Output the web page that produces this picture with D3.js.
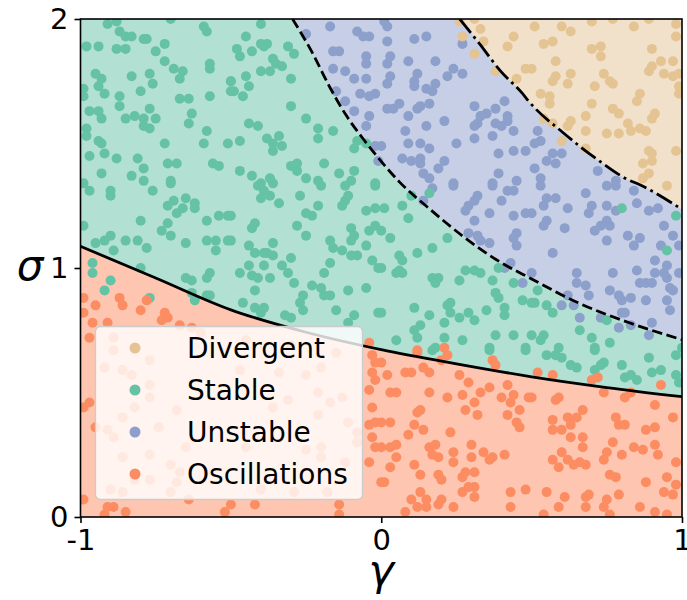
<!DOCTYPE html>
<html>
<head>
<meta charset="utf-8">
<script src="https://cdn.jsdelivr.net/npm/d3@7"></script>
<style>
  html, body { margin: 0; padding: 0; background: #ffffff; }
  svg text { font-family: "DejaVu Sans", sans-serif; }
</style>
</head>
<body>
<svg id="chart" width="687" height="600"></svg>
<script>
// Phase categories in legend order
const categories = ["Divergent", "Stable", "Unstable", "Oscillations"];

// Axis ticks
const xTicks = [-1, 0, 1];
const yTicks = [0, 1, 2];

// Phase boundaries, [gamma, sigma]
const oscillationBoundary = [[-1, 1.087], [-0.75, 0.96], [-0.5, 0.832], [-0.25, 0.742], [0, 0.672],
  [0.25, 0.615], [0.5, 0.563], [0.75, 0.52], [1, 0.483]];
const unstableBoundary = [[-0.295, 2], [-0.228, 1.862], [-0.171, 1.726], [-0.116, 1.612], [-0.061, 1.52],
  [-0.005, 1.435], [0.061, 1.345], [0.161, 1.237], [0.271, 1.128], [0.383, 1.033], [0.5, 0.956],
  [0.659, 0.858], [0.825, 0.78], [1, 0.712]];
const divergentBoundary = [[0.261, 2], [0.327, 1.9], [0.394, 1.795], [0.47, 1.7], [0.493, 1.666],
  [0.603, 1.545], [0.716, 1.438], [0.825, 1.352], [0.849, 1.34], [1, 1.235]];

// Simulated communities, [gamma, sigma], grouped by observed outcome
const stablePts = [
  [-0.91,1.98],[-0.88,1.99],[-0.70,2.0],[-0.59,1.97],[-0.58,1.95],[-0.87,1.95],[-0.85,1.93],[-0.83,1.93],[-0.79,1.92],[-0.78,1.92],
  [-0.98,1.89],[-0.94,1.89],[-0.88,1.88],[-0.85,1.88],[-0.72,1.90],[-0.75,1.87],[-0.72,1.83],[-0.57,1.82],[-0.57,1.80],[-0.69,1.80],
  [-0.66,1.79],[-0.67,1.76],[-0.95,1.78],[-0.93,1.76],[-0.94,1.73],[-0.92,1.70],[-0.83,1.77],[-0.77,1.78],[-0.76,1.74],[-0.80,1.71],
  [-0.99,1.72],[-0.99,1.69],[-0.50,1.75],[-0.50,1.71],[-0.87,1.69],[-0.87,1.65],[-0.67,1.68],[-0.64,1.68],[-0.57,1.69],[-0.77,1.64],
  [-0.97,1.63],[-0.94,1.63],[-0.93,1.60],[-0.85,1.60],[-0.82,1.61],[-0.79,1.60],[-0.75,1.60],[-0.79,1.57],[-0.77,1.56],[-0.63,1.62],
  [-0.64,1.58],[-0.98,1.56],[-0.98,1.53],[-0.94,1.51],[-0.93,1.50],[-0.58,1.55],[-0.59,1.50],[-0.51,1.50],[-0.72,1.50],[-0.97,1.45],
  [-0.92,1.46],[-0.88,1.44],[-0.81,1.44],[-0.79,1.40],[-0.71,1.42],[-0.68,1.42],[-0.56,1.42],[-0.54,1.41],[-0.93,1.38],[-0.83,1.37],
  [-0.79,1.35],[-0.70,1.35],[-0.99,1.34],
  [-0.40,1.98],[-0.45,1.93],[-0.48,1.88],[-0.47,1.85],[-0.43,1.87],[-0.40,1.90],[-0.38,1.90],[-0.39,1.89],[-0.31,1.89],[-0.29,1.86],
  [-0.36,1.84],[-0.35,1.82],[-0.33,1.81],[-0.40,1.79],[-0.37,1.79],[-0.30,1.76],[-0.45,1.77],[-0.44,1.73],[-0.50,1.75],[-0.49,1.71],
  [-0.46,1.69],[-0.30,1.65],[-0.25,1.60],[-0.21,1.56],[-0.21,1.52],[-0.16,1.55],[-0.44,1.58],[-0.41,1.57],[-0.38,1.52],[-0.34,1.53],
  [-0.36,1.50],[-0.33,1.49],[-0.36,1.47],[-0.47,1.51],[-0.08,1.51],[-0.05,1.50],[-0.09,1.48],[-0.30,1.41],[-0.28,1.42],[-0.28,1.39],
  [-0.19,1.42],[-0.47,1.39],[-0.43,1.37],[-0.37,1.36],[-0.40,1.34],[-0.25,1.36],[-0.21,1.35],[-0.14,1.38],[-0.09,1.39],[-0.10,1.35],
  [-0.02,1.34],
  [-0.97,1.31],[-0.90,1.31],[-0.90,1.29],[-0.76,1.31],[-0.70,1.34],[-0.69,1.27],[-0.71,1.25],[-0.66,1.24],[-0.68,1.22],[-0.65,1.28],
  [-0.62,1.26],[-0.62,1.24],[-0.80,1.19],[-0.71,1.18],[-0.73,1.15],[-0.70,1.13],[-0.58,1.19],[-0.54,1.21],[-0.51,1.21],[-0.99,1.17],
  [-0.95,1.10],[-0.92,1.11],[-0.90,1.13],[-0.89,1.07],[-0.85,1.11],[-0.81,1.11],[-0.78,1.08],[-0.65,1.10],[-0.58,1.11],[-0.55,1.11],
  [-0.55,1.07],[-0.51,1.11],[-0.96,1.02],[-0.96,0.98],[-0.90,0.95],[-0.80,1.00],[-0.92,0.91],[-0.65,0.96],[-0.63,0.95],[-0.58,0.96],
  [-0.57,0.98],[-0.63,0.90],[-0.62,0.87],[-0.58,0.89],[-0.57,0.89],[-0.77,0.88],
  [-0.41,1.33],[-0.39,1.31],[-0.40,1.28],[-0.37,1.29],[-0.34,1.26],[-0.36,1.34],[-0.27,1.29],[-0.20,1.33],[-0.21,1.25],[-0.25,1.22],
  [-0.23,1.21],[-0.12,1.33],[-0.11,1.29],[-0.12,1.27],[-0.13,1.25],[-0.02,1.33],[-0.05,1.23],[-0.02,1.24],[-0.50,1.21],[-0.42,1.18],
  [-0.43,1.16],[-0.28,1.17],[-0.25,1.13],[-0.10,1.16],[-0.09,1.13],[-0.10,1.11],[-0.04,1.15],[-0.02,1.17],[-0.17,1.11],[-0.16,1.08],
  [-0.13,1.07],[-0.10,1.05],[-0.08,1.05],[-0.05,1.09],[-0.03,1.03],[-0.01,1.00],[-0.44,1.09],[-0.42,1.06],[-0.39,1.06],[-0.38,1.06],
  [-0.36,1.05],[-0.36,1.10],[-0.30,1.04],[-0.50,1.11],[-0.44,1.01],[-0.39,1.01],[-0.33,1.01],[-0.47,0.98],[-0.43,0.97],[-0.41,0.96],
  [-0.37,0.96],[-0.31,0.98],[-0.29,0.94],[-0.17,1.02],[-0.19,0.98],[-0.23,0.93],[-0.20,0.92],[-0.19,0.89],[-0.17,0.89],[-0.26,0.89],
  [-0.11,0.91],[-0.05,0.92],[-0.42,0.91],[-0.46,0.86],[-0.42,0.84],[-0.39,0.84],[-0.40,0.82],[-0.27,0.86],[-0.26,0.83],[-0.15,0.83],
  [-0.32,0.81],[-0.30,0.80],[-0.09,0.81],[-0.11,0.78],[-0.01,0.82],
  [0.16,1.30],[0.10,1.29],[0.01,1.24],[0.07,1.25],[0.09,1.20],[0.00,1.15],[0.03,1.12],[0.22,1.12],[0.17,1.08],[0.12,1.06],
  [0.06,1.05],[0.07,1.03],[0.06,0.99],[0.07,0.98],[0.05,0.98],[0.00,1.00],[0.17,0.96],[0.19,0.96],[0.18,0.94],[0.26,0.95],
  [0.28,0.99],[0.31,0.99],[0.33,0.98],[0.37,0.95],[0.39,1.00],[0.44,0.94],[0.38,0.90],[0.39,0.88],[0.47,0.87],[0.50,0.86],
  [0.11,0.84],[0.22,0.85],[0.23,0.86],[0.23,0.82],[0.16,0.81],[0.26,0.80],[0.29,0.82],[0.31,0.79],[0.35,0.83],[0.41,0.84],
  [0.41,0.81],[0.00,0.82],[0.13,0.77],[0.11,0.75],[0.12,0.72],[0.21,0.78],[0.21,0.72],[0.27,0.71],[0.38,0.73],[0.44,0.73],
  [0.48,0.68],[0.05,0.71],[0.18,0.68],[0.36,0.68],
  [0.80,1.24],[0.98,1.21],[0.95,1.07],[0.52,0.91],[0.51,0.86],[0.55,0.85],[0.57,0.82],[0.66,0.75],[0.70,0.72],[0.75,0.79],
  [0.76,0.70],[0.50,0.73],[0.54,0.73],[0.53,0.71],[0.59,0.68],[0.71,0.68],[1.00,0.68],
  [0.17,0.67],[0.36,0.67],[0.48,0.67],
  [0.55,0.65],[0.58,0.65],[0.60,0.64],[0.63,0.61],[0.65,0.60],[0.71,0.67],[0.74,0.62],[0.73,0.61],[0.71,0.59],[0.80,0.61],
  [0.89,0.64],[0.98,0.65],[0.81,0.56],[0.83,0.57],[0.85,0.55],[0.90,0.58],[0.93,0.59],[0.98,0.57],[0.99,0.54]
];

const unstablePts = [
  [-0.25,1.94],[-0.17,1.97],[-0.08,1.95],[-0.06,1.93],[-0.04,1.93],[-0.16,1.87],[-0.14,1.87],[-0.05,1.85],[-0.05,1.82],[-0.16,1.80],
  [-0.12,1.79],[-0.09,1.76],[-0.05,1.76],[-0.15,1.71],[-0.12,1.67],[-0.07,1.70],[-0.04,1.69],[-0.02,1.70],[-0.09,1.63],[-0.04,1.61],
  [-0.05,1.57],[-0.02,1.49],[-0.01,1.43],
  [0.01,1.99],[0.02,1.97],[0.02,1.91],[0.11,1.92],[0.15,1.93],[0.27,1.90],[0.03,1.85],[0.02,1.82],[0.09,1.83],[0.18,1.83],
  [0.03,1.77],[0.02,1.74],[0.12,1.78],[0.11,1.75],[0.11,1.73],[0.22,1.77],[0.24,1.80],[0.27,1.78],[0.15,1.72],[0.17,1.71],
  [0.18,1.74],[0.06,1.66],[0.02,1.64],[0.04,1.64],[0.12,1.64],[0.13,1.65],[0.16,1.66],[0.09,1.61],[0.21,1.59],[0.15,1.57],
  [0.08,1.55],[0.31,1.65],[0.33,1.61],[0.35,1.62],[0.38,1.64],[0.41,1.67],[0.42,1.61],[0.42,1.59],[0.38,1.58],[0.40,1.57],
  [0.31,1.57],[0.32,1.58],[0.44,1.55],[0.31,1.52],[0.37,1.53],[0.09,1.50],[0.13,1.50],[0.16,1.48],[0.25,1.50],[0.00,1.49],
  [0.07,1.44],[0.10,1.43],[0.13,1.44],[0.13,1.42],[0.21,1.43],[0.19,1.40],[0.14,1.38],[0.16,1.36],[0.39,1.46],[0.44,1.47],
  [0.48,1.47],[0.39,1.38],[0.24,1.34],[0.37,1.34],[0.45,1.35],
  [0.52,1.55],[0.53,1.51],[0.51,1.50],[0.57,1.46],[0.55,1.43],[0.58,1.42],[0.60,1.46],[0.51,1.40],[0.53,1.36],[0.72,1.39],[0.78,1.35],
  [0.17,1.32],[0.24,1.33],[0.37,1.33],[0.42,1.31],[0.44,1.31],[0.32,1.29],[0.31,1.27],[0.29,1.25],[0.28,1.23],[0.40,1.27],
  [0.36,1.22],[0.31,1.19],[0.44,1.21],[0.48,1.22],[0.14,1.27],[0.29,1.14],[0.32,1.13],[0.33,1.11],[0.36,1.10],[0.45,1.14],
  [0.44,1.12],[0.45,1.09],[0.43,1.02],[0.41,1.00],[0.47,0.94],
  [0.53,1.33],[0.68,1.30],[0.75,1.33],[0.78,1.33],[0.84,1.31],[0.58,1.28],[0.55,1.28],[0.54,1.25],[0.62,1.24],[0.70,1.25],
  [0.69,1.22],[0.75,1.25],[0.78,1.23],[0.85,1.26],[0.89,1.23],[0.92,1.24],[0.50,1.22],[0.55,1.19],[0.54,1.17],[0.61,1.16],
  [0.71,1.15],[0.73,1.17],[0.75,1.19],[0.76,1.17],[0.82,1.13],[0.84,1.09],[0.86,1.12],[0.94,1.17],[0.97,1.13],[0.99,1.09],
  [0.93,1.09],[0.75,1.11],[0.57,1.06],[0.91,1.03],[0.95,1.01],[0.91,0.98],[0.94,0.98],[0.95,0.96],[0.85,0.99],[0.86,0.94],
  [0.88,0.94],[0.90,0.94],[0.96,0.92],[0.97,0.91],[0.50,0.98],[0.65,0.98],[0.65,0.94],[0.68,0.93],[0.69,0.89],[0.77,0.98],
  [0.76,0.91],[0.79,0.89],[0.80,0.87],[0.83,0.88],[0.88,0.87],[0.95,0.87],[0.96,0.83],[0.99,0.98],[0.62,0.89],[0.60,0.85],
  [0.64,0.85],[0.80,0.82],[0.81,0.82],[0.73,0.80],[0.66,0.80],[0.79,0.76],[0.83,0.77],[0.90,0.78],[0.89,0.73]
];

const divergentPts = [
  [0.26,1.99],[0.31,2.0],[0.33,1.96],[0.27,1.93],[0.34,1.91],[0.31,1.86],[0.44,1.93],[0.42,1.89],[0.48,1.80],[0.38,1.79],[0.45,1.76],
  [0.51,1.97],[0.60,1.97],[0.63,1.95],[0.70,1.99],[0.77,2.0],[0.84,1.97],[0.89,2.0],[0.98,1.98],[0.98,1.93],[0.54,1.90],
  [0.57,1.91],[0.70,1.88],[0.73,1.89],[0.73,1.85],[0.90,1.88],[0.58,1.83],[0.50,1.80],[0.93,1.83],[0.97,1.83],[0.90,1.81],
  [0.89,1.79],[0.94,1.78],[0.97,1.77],[0.99,1.78],[0.58,1.77],[0.57,1.75],[0.63,1.78],[0.62,1.74],[0.74,1.78],[0.76,1.75],
  [0.77,1.74],[0.71,1.73],[0.99,1.73],[0.99,1.70],[0.53,1.70],[0.56,1.69],[0.56,1.66],[0.70,1.66],[0.86,1.70],[0.85,1.67],
  [0.77,1.64],[0.79,1.62],[0.91,1.62],[0.90,1.60],[0.68,1.61],[0.82,1.58],[0.83,1.55],[0.86,1.56],[0.88,1.55],[0.54,1.60],
  [0.57,1.58],[0.63,1.59],[0.62,1.57],[0.68,1.55],[0.75,1.54],[0.79,1.54],[0.60,1.51],[0.68,1.48],[0.89,1.47],[0.90,1.46],
  [0.87,1.42],[0.90,1.43],[0.98,1.47],[0.89,1.38],[0.87,1.36],[0.95,1.33]
];

const oscillationPts = [
  [-0.99,0.88],[-0.95,0.85],[-0.87,0.88],[-0.86,0.85],[-0.78,0.87],[-0.80,0.83],[-0.72,0.82],[-0.71,0.80],[-0.73,0.79],[-0.96,0.78],
  [-0.91,0.78],[-0.99,0.82],[-0.97,0.72],[-0.67,0.77],[-0.63,0.76],[-0.89,0.72],[-0.04,0.70],[0.12,0.67],[0.21,0.68],
  [-0.60,0.74],[-0.45,0.71],[-0.30,0.69],[-0.15,0.66],
  [-0.99,0.44],[-0.97,0.46],[-0.99,0.07],[-0.91,0.04],[-0.89,0.04],[-0.85,0.02],[-0.92,0.01],
  [-0.89,0.67],[-0.77,0.63],[-0.92,0.60],[-0.86,0.59],[-0.83,0.57],[-0.77,0.53],[-0.77,0.48],[-0.82,0.44],[-0.68,0.43],[-0.86,0.40],
  [-0.95,0.36],[-0.91,0.35],[-0.89,0.32],[-0.74,0.36],[-0.77,0.25],[-0.86,0.24],[-0.70,0.21],[-0.65,0.28],[-0.67,0.18],[-0.82,0.15],
  [-0.77,0.15],[-0.68,0.14],[-0.90,0.11],[-0.70,0.10],[-0.86,0.10],[-0.64,0.07],[-0.52,0.02],
  [-0.03,0.65],[-0.02,0.62],[-0.03,0.58],[-0.02,0.55],[-0.04,0.51],[-0.03,0.44],[-0.02,0.38],[-0.04,0.37],[-0.03,0.32],[-0.02,0.28],
  [-0.04,0.22],[0.00,0.14],[-0.14,0.05],[-0.14,0.01],[-0.42,0.05],[-0.50,0.05],
  [-0.47,0.59],[-0.34,0.58],[-0.25,0.57],[-0.20,0.60],[-0.21,0.50],[-0.17,0.46],[-0.13,0.48],[-0.31,0.47],[-0.36,0.44],[-0.21,0.41],
  [-0.11,0.38],[-0.08,0.34],[-0.08,0.30],[-0.20,0.28],[-0.25,0.27],[-0.20,0.24],[-0.12,0.22],[-0.29,0.10],[-0.18,0.10],[-0.45,0.28],
  [-0.40,0.11],
  [0.00,0.62],[0.02,0.57],[0.08,0.58],[0.10,0.58],[0.14,0.60],[0.16,0.58],[0.12,0.66],[0.22,0.65],[0.20,0.63],[0.37,0.63],
  [0.38,0.61],[0.26,0.57],[0.29,0.54],[0.36,0.52],[0.33,0.50],[0.42,0.53],[0.44,0.49],[0.43,0.46],[0.46,0.43],[0.49,0.48],
  [0.03,0.50],[0.05,0.50],[0.16,0.50],[0.22,0.48],[0.27,0.49],[0.31,0.46],[0.28,0.43],[0.32,0.41],[0.40,0.48],[0.42,0.41],
  [0.45,0.38],[0.46,0.36],[0.12,0.42],[0.13,0.43],[0.03,0.38],[0.00,0.38],[0.11,0.37],[0.14,0.35],[0.09,0.33],[0.23,0.34],
  [0.03,0.28],[0.05,0.29],[0.00,0.28],[0.05,0.24],[0.16,0.28],[0.18,0.29],[0.17,0.25],[0.19,0.24],[0.24,0.26],[0.24,0.22],
  [0.30,0.24],[0.30,0.29],[0.34,0.26],[0.36,0.23],[0.37,0.24],[0.41,0.25],[0.11,0.21],[0.03,0.20],[0.13,0.17],[0.19,0.17],
  [0.20,0.15],[0.27,0.16],[0.28,0.18],[0.31,0.18],[0.01,0.14],[0.29,0.12],[0.31,0.12],[0.27,0.10],[0.13,0.10],[0.10,0.07],
  [0.15,0.07],[0.12,0.04],[0.15,0.04],[0.20,0.07],[0.19,0.05],[0.24,0.04],[0.31,0.08],[0.43,0.10],[0.48,0.11],[0.43,0.04],
  [0.08,0.02],
  [0.52,0.58],[0.57,0.57],[0.70,0.55],[0.72,0.56],[0.93,0.53],[0.74,0.50],[0.50,0.48],[0.58,0.47],[0.59,0.48],[0.81,0.48],
  [0.83,0.50],[0.91,0.45],[0.97,0.40],[0.67,0.43],[0.65,0.40],[0.62,0.40],[0.63,0.37],[0.57,0.39],[0.57,0.35],[0.60,0.35],
  [0.63,0.32],[0.67,0.32],[0.78,0.40],[0.79,0.37],[0.81,0.37],[0.88,0.35],[0.91,0.36],[0.67,0.28],[0.77,0.30],[0.75,0.26],
  [0.74,0.23],[0.80,0.25],[0.84,0.28],[0.87,0.27],[0.91,0.29],[0.92,0.25],[0.98,0.22],[0.60,0.26],[0.57,0.23],[0.59,0.20],
  [0.62,0.23],[0.64,0.21],[0.66,0.22],[0.68,0.21],[0.76,0.17],[0.78,0.16],[0.88,0.14],[0.95,0.16],[0.98,0.13],[0.55,0.10],
  [0.61,0.08],[0.59,0.04],[0.68,0.08],[0.69,0.09],[0.68,0.04],[0.75,0.07],[0.74,0.04],[0.79,0.09],[0.94,0.10],[0.97,0.09],
  [0.86,0.04],[0.91,0.02],[0.95,0.01],[0.54,0.01],[0.76,0.01]
];

// Set2 colours per phase (markers) and their half-strength tints (region shading)
const phaseColor = {
  Divergent: "#e5c494",
  Stable: "#66c2a5",
  Unstable: "#8da0cb",
  Oscillations: "#fc8d62"
};
const phaseTint = {
  Divergent: "#f2e1ca",
  Stable: "#b2e0d2",
  Unstable: "#c6cfe5",
  Oscillations: "#fec6b0"
};
const pointsByPhase = {
  Divergent: divergentPts,
  Stable: stablePts,
  Unstable: unstablePts,
  Oscillations: oscillationPts
};

const svg = d3.select("#chart");
const plot = { left: 80.5, right: 682, top: 19, bottom: 517 };

const x = d3.scaleLinear().domain([-1, 1]).range([plot.left, plot.right]);
const y = d3.scaleLinear().domain([0, 2]).range([plot.bottom, plot.top]);

svg.append("defs").append("clipPath").attr("id", "plot-clip")
  .append("rect")
  .attr("x", plot.left).attr("y", plot.top)
  .attr("width", plot.right - plot.left).attr("height", plot.bottom - plot.top);

const body = svg.append("g").attr("clip-path", "url(#plot-clip)");

// Region shading: stable everywhere, then the other phases on top
body.append("rect")
  .attr("x", plot.left).attr("y", plot.top)
  .attr("width", plot.right - plot.left).attr("height", plot.bottom - plot.top)
  .attr("fill", phaseTint.Stable);

const curve = d3.curveMonotoneX;
const below = d3.area().x(d => x(d[0])).y0(y(0)).y1(d => y(d[1])).curve(curve);
const above = d3.area().x(d => x(d[0])).y0(y(2)).y1(d => y(d[1])).curve(curve);

body.append("path").datum(oscillationBoundary).attr("d", below).attr("fill", phaseTint.Oscillations);
body.append("path").datum(unstableBoundary).attr("d", above).attr("fill", phaseTint.Unstable);
body.append("path").datum(divergentBoundary).attr("d", above).attr("fill", phaseTint.Divergent);

// Scatter of simulated outcomes
["Unstable", "Divergent", "Stable", "Oscillations"].forEach(name => {
  body.append("g").selectAll("circle")
    .data(pointsByPhase[name])
    .join("circle")
    .attr("cx", d => x(d[0]))
    .attr("cy", d => y(d[1]))
    .attr("r", 5)
    .attr("fill", phaseColor[name]);
});

// Boundary lines
const line = d3.line().x(d => x(d[0])).y(d => y(d[1])).curve(curve);
body.append("path").datum(oscillationBoundary).attr("d", line)
  .attr("fill", "none").attr("stroke", "#000").attr("stroke-width", 2.8);
body.append("path").datum(unstableBoundary).attr("d", line)
  .attr("fill", "none").attr("stroke", "#000").attr("stroke-width", 2.8)
  .attr("stroke-dasharray", "10.4,4.5");
body.append("path").datum(divergentBoundary).attr("d", line)
  .attr("fill", "none").attr("stroke", "#000").attr("stroke-width", 2.8)
  .attr("stroke-dasharray", "17.8,4.5,2.8,4.5");

// Frame
svg.append("rect")
  .attr("x", plot.left).attr("y", plot.top)
  .attr("width", plot.right - plot.left).attr("height", plot.bottom - plot.top)
  .attr("fill", "none").attr("stroke", "#000").attr("stroke-width", 1.6);

// Axes
const fmt = d => String(d);
const xAxis = svg.append("g").attr("transform", `translate(0,${plot.bottom})`)
  .call(d3.axisBottom(x).tickValues(xTicks).tickFormat(fmt).tickSize(6).tickPadding(6));
const yAxis = svg.append("g").attr("transform", `translate(${plot.left},0)`)
  .call(d3.axisLeft(y).tickValues(yTicks).tickFormat(fmt).tickSize(6).tickPadding(6));
[xAxis, yAxis].forEach(g => {
  g.select(".domain").remove();
  g.selectAll(".tick line").attr("stroke", "#000").attr("stroke-width", 1.6);
  g.selectAll(".tick text").attr("fill", "#000")
    .style("font-family", "'DejaVu Sans', sans-serif").style("font-size", "29px");
});

// Axis labels
svg.append("text")
  .attr("x", (plot.left + plot.right) / 2).attr("y", 585)
  .attr("text-anchor", "middle")
  .style("font-size", "43px").style("font-style", "italic")
  .text("γ");
svg.append("text")
  .attr("x", 30).attr("y", 280)
  .attr("text-anchor", "middle")
  .style("font-size", "42px").style("font-style", "italic")
  .text("σ");

// Legend
const legend = svg.append("g");
legend.append("rect")
  .attr("x", 95.5).attr("y", 326.5).attr("width", 267).attr("height", 173).attr("rx", 5)
  .attr("fill", "#ffffff").attr("fill-opacity", 0.8)
  .attr("stroke", "#cccccc").attr("stroke-width", 1.3);
categories.forEach((name, i) => {
  const cy = 348 + i * 42;
  legend.append("circle").attr("cx", 135).attr("cy", cy).attr("r", 5.5)
    .attr("fill", phaseColor[name]);
  legend.append("text").attr("x", 187).attr("y", cy + 10)
    .style("font-size", "28px").attr("fill", "#000")
    .text(name);
});
</script>
</body>
</html>
